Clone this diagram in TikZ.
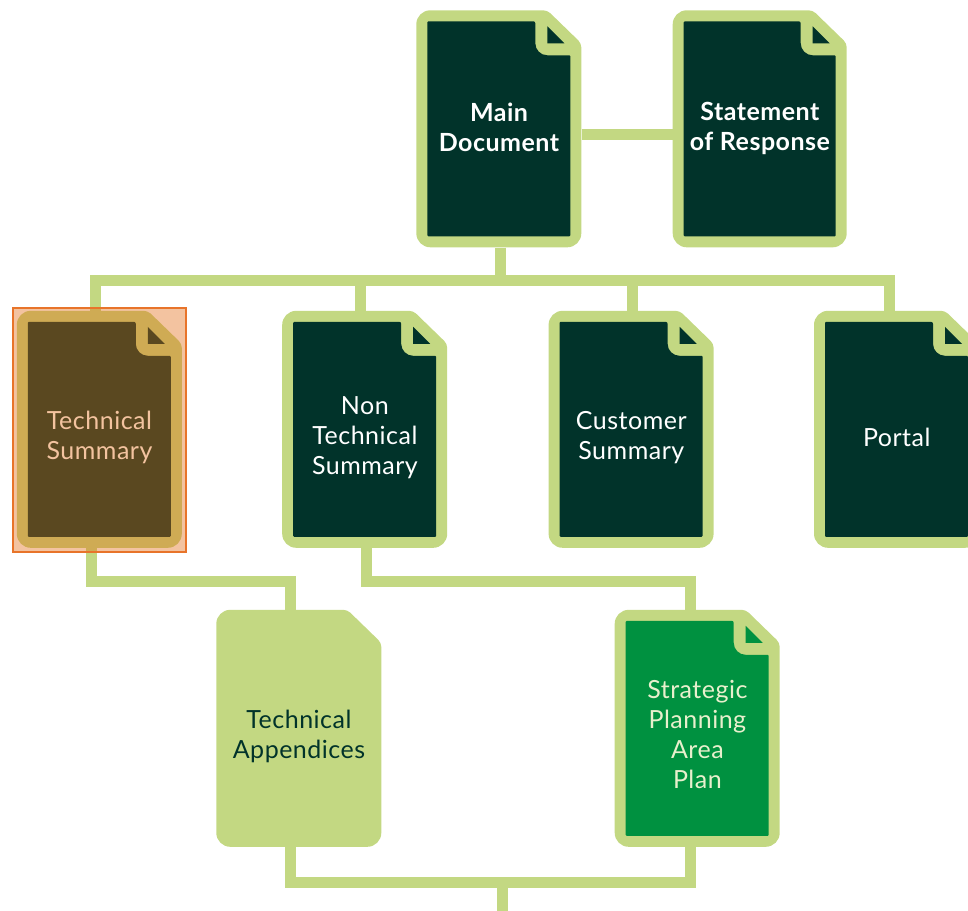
\documentclass[tikz,border=0pt]{standalone}
\usepackage{fontspec}
\setmainfont{Lato}[LetterSpace=2]
\usetikzlibrary{backgrounds, positioning}
\definecolor{sheetlime}{RGB}{195,216,130}
\definecolor{sheetdark}{RGB}{1,51,42}
\definecolor{sheetgreen}{RGB}{0,145,64}
\definecolor{markorange}{RGB}{225,105,17}
\definecolor{markline}{RGB}{232,116,42}
\definecolor{palegreen}{RGB}{232,240,205}
\tikzset{%
  % Specifications for style of nodes:
  sheet/.style = {rectangle, minimum width=165pt, minimum height=237pt, inner sep=0pt},
  doctext/.style = {align=center, font=\fontsize{25}{30}\selectfont, text=white, yshift=-8pt},
  toptext/.style = {doctext, font=\fontsize{25}{30}\selectfont\bfseries, yshift=10pt},
  link/.style = {draw=sheetlime, line width=11pt}
}

\begin{document}
\begin{tikzpicture}[x=1pt, y=1pt, node distance=100pt]
  \useasboundingbox (0,0) rectangle (968,-910);
  \node (maindoc)[sheet, label={[toptext]center:Main\\Document}] at (499,-129) {};
  \node (stateresp)[sheet, minimum width=174pt, right=91pt of maindoc, label={[toptext, yshift=-1pt]center:Statement\\of Response}] {};
  \node (techsum)[sheet, label={[doctext]center:Technical\\Summary}] at (99.5,-429.5) {};
  \node (nontech)[sheet, right=of techsum, label={[doctext]center:Non\\Technical\\Summary}] {};
  \node (custsum)[sheet, right=101pt of nontech, label={[doctext]center:Customer\\Summary}] {};
  \node (portal)[sheet, right=of custsum, label={[doctext]center:Portal}] {};
  \node (techapp)[sheet, label={[doctext, text=sheetdark]center:Technical\\Appendices}] at (299,-728.5) {};
  \node (strategic)[sheet, right=233pt of techapp, label={[doctext, yshift=2pt, text=palegreen]center:Strategic\\Planning\\Area\\Plan}] {};
  \coordinate (trunk) at (500,-280);
  \coordinate (lowleft) at (200,-581);
  \coordinate (lowright) at (500,-581);
  \coordinate (basebus) at (502,-882);
  \coordinate (tail) at (502,-915);

  % page outlines go behind everything
  \begin{scope}[on background layer]
    \foreach \n/\w/\c in {maindoc/165/sheetdark, stateresp/174/sheetdark, techsum/165/sheetdark,
      nontech/165/sheetdark, custsum/165/sheetdark, portal/165/sheetdark,
      techapp/165/sheetlime, strategic/165/sheetgreen} {
      \begin{scope}[shift={(\n.north west)}]
        \fill[sheetlime, rounded corners=14pt] (0,-118) -- (0,0) [rounded corners=4pt] -- (\w-34,0) -- (\w,-33)
          [rounded corners=14pt] -- (\w,-237) -- (0,-237) -- cycle;
        \fill[\c, rounded corners=2pt] (11,-11) -- (\w-46,-11) [rounded corners=12pt] -- (\w-46,-45)
          [rounded corners=1pt] -- (\w-11,-45) -- (\w-11,-226) -- (11,-226) -- cycle;
        \fill[\c] (\w-34,-16) -- (\w-34,-33) -- (\w-17,-33) -- cycle;
      \end{scope}
    }
  \end{scope}

  \draw[link] ([yshift=-5pt]maindoc.east) -- ([yshift=-5pt]stateresp.west);
  \draw[link] (maindoc.south -| trunk) -- (trunk);
  \foreach \n/\d in {techsum/-4.5, nontech/-4.5, custsum/1, portal/-7.5}
    \draw[link] ([xshift=\d pt]\n.north) |- (trunk);
  \draw[link] ([xshift=-8.5pt]techsum.south) |- (lowleft) -| ([xshift=-9pt]techapp.north);
  \draw[link] ([xshift=1.5pt]nontech.south) |- (lowright) -| ([xshift=-6.5pt]strategic.north);
  \draw[link] ([xshift=-9pt]techapp.south) |- (basebus) -| ([xshift=-6.5pt]strategic.south);
  \draw[link] (basebus) -- (tail);

  % highlight over the first summary
  \node (marker)[draw=markline, line width=2pt, fill=markorange, fill opacity=0.4,
    minimum width=173pt, minimum height=244pt, inner sep=0pt] at (99,-429.5) {};
\end{tikzpicture}
\end{document}
